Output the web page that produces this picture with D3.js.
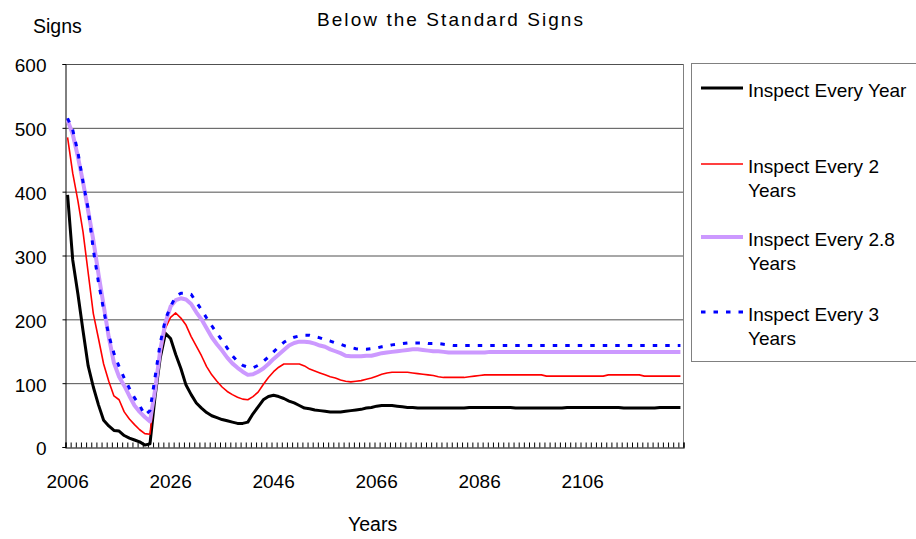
<!DOCTYPE html>
<html><head><meta charset="utf-8">
<script src="https://cdn.jsdelivr.net/npm/d3@7"></script>
<style>
body{margin:0;background:#fff}
text{font-family:"Liberation Sans",Arial,sans-serif;fill:#000}
</style>
</head><body>
<svg id="c" width="916" height="539"></svg>
<script>
// ---------------- data ----------------
const startYear = 2006, nYears = 120;
const years = d3.range(startYear, startYear + nYears);
const xTickYears = [2006, 2026, 2046, 2066, 2086, 2106];
const yTicks = [0, 100, 200, 300, 400, 500, 600];

const everyYear = [
 395,293,240,182,127,94,66,42,33,26,
 25,18,14,11,8,3,5,80,140,178,
 170,145,123,97,82,69,61,54,49,46,
 43,41,39,37,37,39,52,63,74,79,
 81,79,76,72,69,65,61,60,58,57,
 56,55,55,55,56,57,58,59,61,62,
 64,65,65,65,64,63,62,62,61,61,
 61,61,61,61,61,61,61,61,62,62,
 62,62,62,62,62,62,62,61,61,61,
 61,61,61,61,61,61,61,62,62,62,
 62,62,62,62,62,62,62,62,61,61,
 61,61,61,61,61,62,62,62,62,62];

const every2Years = [
 485,429,386,337,273,209,170,130,103,80,
 74,55,44,35,27,21,20,95,143,186,
 203,210,202,191,173,158,143,126,113,103,
 94,87,82,78,75,74,79,86,98,109,
 118,125,130,130,130,130,127,122,119,116,
 113,110,108,105,103,102,103,104,106,108,
 111,114,116,117,117,117,117,116,115,114,
 113,112,110,109,109,109,109,109,110,111,
 112,113,113,113,113,113,113,113,113,113,
 113,113,113,111,111,111,111,111,111,111,
 111,111,111,111,111,113,113,113,113,113,
 113,113,111,111,111,111,111,111,111,111];

const every28Years = [
 512,490,455,415,370,324,271,222,172,132,
 110,96,80,65,55,47,40,90,152,195,
 220,230,233,231,224,211,200,186,172,161,
 151,140,131,124,118,113,114,118,123,130,
 138,145,152,159,163,165,165,164,162,159,
 157,153,150,147,143,142,142,142,143,143,
 145,147,148,149,150,151,152,153,153,152,
 151,150,150,149,148,148,148,148,148,148,
 148,148,149,149,149,149,149,149,149,149,
 149,149,149,149,149,149,149,149,149,149,
 149,149,149,149,149,149,149,149,149,149,
 149,149,149,149,149,149,149,149,149,149];

const every3Years = [
 515,497,462,415,373,309,258,215,175,147,
 126,108,92,77,65,50,57,110,163,200,
 220,236,241,241,239,227,215,202,190,178,
 167,155,143,134,128,125,124,128,134,141,
 149,157,164,169,172,174,175,175,173,171,
 168,166,163,161,158,156,154,153,153,154,
 155,157,158,160,161,162,163,163,163,163,
 162,162,162,161,160,159,159,159,159,159,
 159,159,159,159,159,159,159,159,159,159,
 159,159,159,159,159,159,159,159,159,159,
 159,159,159,159,159,159,159,159,159,159,
 159,159,159,159,159,159,159,159,159,159];

const seriesLabels = [
  ["Inspect Every Year"],
  ["Inspect Every 2", "Years"],
  ["Inspect Every 2.8", "Years"],
  ["Inspect Every 3", "Years"]
];

// ---------------- styles ----------------
const series = [
  {values: everyYear,   color: "#000000", width: 3,   dash: null},
  {values: every2Years, color: "#FF0000", width: 1.6, dash: null},
  {values: every28Years,color: "#CC99FF", width: 4,   dash: null},
  {values: every3Years, color: "#0000FF", width: 3,   dash: "4.5,8"}
];

const svg = d3.select("#c");
const L = 65, R = 683, T = 64, B = 447;

const x = d3.scaleBand().domain(years).range([L, R]).padding(0);
const xc = yr => x(yr) + x.bandwidth() / 2;
const xi = d3.scaleLinear().domain([0, nYears]).range([L, R]);
const y = d3.scaleLinear().domain([0, 600]).range([B, T]);

// plot area border (right side)
svg.append("line").attr("x1", R + 0.5).attr("x2", R + 0.5).attr("y1", T).attr("y2", B)
  .attr("stroke", "#808080").attr("stroke-width", 1);

// gridlines
const grid = svg.append("g").attr("transform", `translate(${L},0)`)
  .call(d3.axisLeft(y).tickValues(yTicks.filter(v => v > 0)).tickSize(-(R - L)).tickFormat(""));
grid.select(".domain").remove();
grid.selectAll("line").attr("stroke", "#505050").attr("stroke-width", 1);

// y axis
const ya = svg.append("g").attr("transform", `translate(${L + 0.5},0)`)
  .call(d3.axisLeft(y).tickValues(yTicks).tickSize(3).tickPadding(16).tickFormat(d3.format("d")));
ya.select(".domain").attr("stroke", "#000");
ya.selectAll("line").attr("stroke", "#000");
ya.selectAll("text").style("font-size", "19px").attr("dy", "0.42em")
  .style("font-family", '"Liberation Sans",Arial,sans-serif');

// x axis: inner ticks at category boundaries
const xt = svg.append("g").attr("transform", `translate(0.5,${B + 0.5})`)
  .call(d3.axisTop(xi).tickValues(d3.range(0, nYears + 1)).tickSize(5).tickFormat(""));
xt.select(".domain").attr("stroke", "#000").attr("stroke-width", 1.2);
xt.selectAll("line").attr("stroke", "#000");

// x labels
const xl = svg.append("g").attr("transform", `translate(0,${B})`)
  .call(d3.axisBottom(x).tickValues(xTickYears).tickSize(0).tickPadding(28));
xl.select(".domain").remove();
xl.selectAll("text").style("font-size", "19px")
  .style("font-family", '"Liberation Sans",Arial,sans-serif');

// lines
const lineGen = d3.line().x((d, i) => xc(years[i])).y(d => y(d)).curve(d3.curveLinear);
svg.append("g").selectAll("path").data(series).join("path")
  .attr("d", s => lineGen(s.values))
  .attr("fill", "none")
  .attr("stroke", s => s.color)
  .attr("stroke-width", s => s.width)
  .attr("stroke-dasharray", s => s.dash)
  .attr("stroke-linejoin", "round");

// title & axis titles
svg.append("text").attr("x", 450).attr("y", 26).attr("text-anchor", "middle")
  .style("font-size", "19px").attr("textLength", 266).attr("lengthAdjust", "spacing")
  .text("Below the Standard Signs");
svg.append("text").attr("x", 33).attr("y", 33).style("font-size", "19.5px").text("Signs");
svg.append("text").attr("x", 348).attr("y", 531).style("font-size", "19.5px").text("Years");

// legend
const lg = svg.append("g");
lg.append("rect").attr("x", 691.5).attr("y", 63.5).attr("width", 240).attr("height", 298)
  .attr("fill", "#fff").attr("stroke", "#808080");
const legendY = [88, 164, 237, 312];
series.forEach((s, k) => {
  const ly = legendY[k];
  lg.append("line").attr("x1", 701).attr("x2", 743).attr("y1", ly).attr("y2", ly)
    .attr("stroke", s.color).attr("stroke-width", s.width).attr("stroke-dasharray", s.dash);
  seriesLabels[k].forEach((t, j) => {
    lg.append("text").attr("x", 748).attr("y", ly + 9 + j * 24)
      .style("font-size", "19px").text(t);
  });
});
</script>
</body></html>
